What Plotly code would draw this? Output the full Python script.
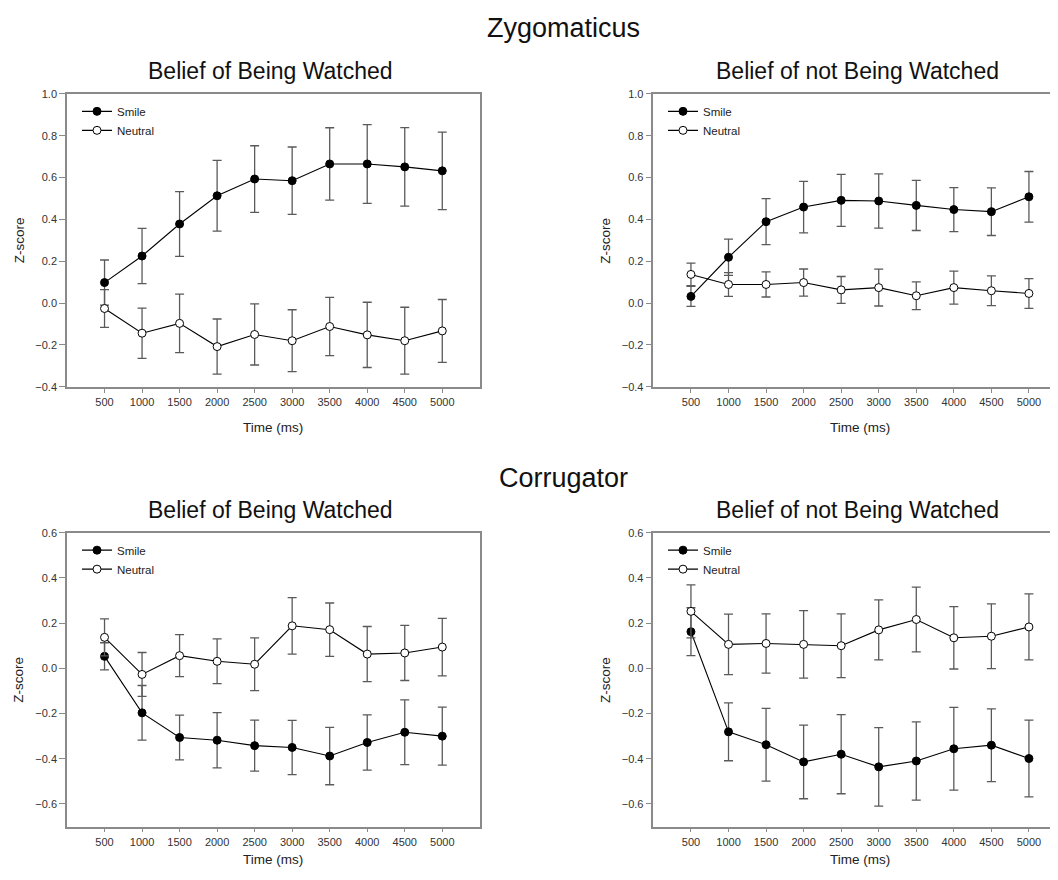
import plotly.graph_objects as go

times = [500, 1000, 1500, 2000, 2500, 3000, 3500, 4000, 4500, 5000]
tick_labels = [str(t) for t in times]

# Zygomaticus - Belief of Being Watched
zyg_w_smile = [0.098, 0.225, 0.378, 0.513, 0.593, 0.585, 0.665, 0.665, 0.651, 0.632]
zyg_w_smile_err = [0.108, 0.132, 0.155, 0.169, 0.159, 0.161, 0.173, 0.188, 0.188, 0.185]
zyg_w_neutral = [-0.026, -0.144, -0.097, -0.208, -0.150, -0.180, -0.112, -0.152, -0.180, -0.133]
zyg_w_neutral_err = [0.090, 0.120, 0.140, 0.132, 0.146, 0.148, 0.139, 0.156, 0.160, 0.150]

# Zygomaticus - Belief of not Being Watched
zyg_nw_smile = [0.032, 0.219, 0.389, 0.459, 0.491, 0.488, 0.467, 0.447, 0.437, 0.508]
zyg_nw_smile_err = [0.048, 0.087, 0.110, 0.123, 0.124, 0.130, 0.120, 0.105, 0.114, 0.121]
zyg_nw_neutral = [0.137, 0.089, 0.089, 0.098, 0.063, 0.074, 0.035, 0.074, 0.059, 0.046]
zyg_nw_neutral_err = [0.054, 0.057, 0.060, 0.065, 0.064, 0.088, 0.066, 0.079, 0.071, 0.071]

# Corrugator - Belief of Being Watched
cor_w_smile = [0.053, -0.197, -0.306, -0.318, -0.342, -0.350, -0.388, -0.328, -0.283, -0.300]
cor_w_smile_err = [0.060, 0.121, 0.099, 0.122, 0.113, 0.120, 0.127, 0.122, 0.143, 0.128]
cor_w_neutral = [0.137, -0.027, 0.056, 0.031, 0.018, 0.188, 0.171, 0.063, 0.068, 0.094]
cor_w_neutral_err = [0.082, 0.097, 0.093, 0.099, 0.117, 0.125, 0.118, 0.122, 0.122, 0.127]

# Corrugator - Belief of not Being Watched
cor_nw_smile = [0.162, -0.281, -0.338, -0.414, -0.380, -0.436, -0.410, -0.356, -0.340, -0.399]
cor_nw_smile_err = [0.106, 0.128, 0.161, 0.163, 0.175, 0.174, 0.173, 0.183, 0.161, 0.170]
cor_nw_neutral = [0.252, 0.106, 0.110, 0.106, 0.100, 0.170, 0.216, 0.135, 0.142, 0.183]
cor_nw_neutral_err = [0.117, 0.134, 0.131, 0.149, 0.141, 0.133, 0.143, 0.138, 0.143, 0.146]

zyg_yticks = [-0.4, -0.2, 0.0, 0.2, 0.4, 0.6, 0.8, 1.0]
cor_yticks = [-0.6, -0.4, -0.2, 0.0, 0.2, 0.4, 0.6]

FONT = "Liberation Sans, Arial, sans-serif"
AXIS_GREY = "#8a8a8a"
ERR_GREY = "#5a5a5a"

# page body has an 8px margin on every side: keep the whole page inside 1058x880
OFF = 8
W, H = 1058 - OFF, 880 - 2 * OFF


def fx(p):
    return (p - OFF) / W


def fy(p):
    return 1 - (p - OFF) / H


panels = [
    ("", zyg_w_smile, zyg_w_smile_err, zyg_w_neutral, zyg_w_neutral_err, "legend",
     (67, 479.8), (89, 386), 5500, [-0.4, 1.0], zyg_yticks, False),
    ("2", zyg_nw_smile, zyg_nw_smile_err, zyg_nw_neutral, zyg_nw_neutral_err, "legend2",
     (653.4, 1058), (89, 386), 5387, [-0.4, 1.0], zyg_yticks, True),
    ("3", cor_w_smile, cor_w_smile_err, cor_w_neutral, cor_w_neutral_err, "legend3",
     (67, 479.8), (534, 832), 5500, [-0.7, 0.6], cor_yticks, False),
    ("4", cor_nw_smile, cor_nw_smile_err, cor_nw_neutral, cor_nw_neutral_err, "legend4",
     (653.4, 1058), (534, 832), 5387, [-0.7, 0.6], cor_yticks, True),
]

fig = go.Figure()
layout = dict(
    width=W, height=H,
    margin=dict(l=0, r=0, t=0, b=0),
    paper_bgcolor="white", plot_bgcolor="white",
    font=dict(family=FONT, color="#222"),
    showlegend=True,
)

annotations = []

for (sfx, sm, sme, ne, nee, leg, xd, yd, xmax, yr, yt, right) in panels:
    xa = "x" + sfx
    ya = "y" + sfx
    fig.add_trace(go.Scatter(
        x=times, y=sm, name="Smile", mode="lines+markers",
        xaxis=xa, yaxis=ya, legend=leg,
        line=dict(color="black", width=1.1),
        marker=dict(symbol="circle", size=8, color="black", line=dict(color="black", width=1)),
        error_y=dict(type="data", array=sme, visible=True, color=ERR_GREY, thickness=1.3, width=4.5),
    ))
    fig.add_trace(go.Scatter(
        x=times, y=ne, name="Neutral", mode="lines+markers",
        xaxis=xa, yaxis=ya, legend=leg,
        line=dict(color="black", width=1.1),
        marker=dict(symbol="circle", size=8, color="white", line=dict(color="black", width=1)),
        error_y=dict(type="data", array=nee, visible=True, color=ERR_GREY, thickness=1.3, width=4.5),
    ))
    layout["xaxis" + sfx] = dict(
        domain=[fx(xd[0]), min(1.0, fx(xd[1]))], anchor=ya, range=[0, xmax],
        tickvals=times, ticktext=tick_labels,
        ticks="outside", ticklen=4, tickcolor=AXIS_GREY, tickwidth=1,
        showline=True, linecolor=AXIS_GREY, linewidth=1.5, mirror=True,
        showgrid=False, zeroline=False,
        tickfont=dict(family=FONT, size=11, color="#333"),
        ticklabelstandoff=0,
    )
    layout["yaxis" + sfx] = dict(
        domain=[fy(yd[1]), fy(yd[0])], anchor=xa, range=yr,
        tickvals=yt, tickformat=".1f",
        ticks="outside", ticklen=6, tickcolor=AXIS_GREY, tickwidth=1,
        showline=True, linecolor=AXIS_GREY, linewidth=1.5, mirror=(not right),
        showgrid=False, zeroline=False,
        tickfont=dict(family=FONT, size=11, color="#333"),
    )
    lx = fx(77 if not right else 663)
    ly = fy(yd[0] + 3)
    layout[leg] = dict(
        x=lx, y=ly, xanchor="left", yanchor="top",
        bgcolor="rgba(0,0,0,0)", borderwidth=0,
        font=dict(family=FONT, size=11.5, color="#222"),
        itemwidth=30, tracegroupgap=0,
    )
    # axis titles (centred under the visible box width of the left panels)
    time_cx = xd[0] + (479.8 - 67) / 2
    time_cy = yd[1] + 41 if yd[1] < 500 else 865
    annotations.append(dict(
        text="Time (ms)", xref="paper", yref="paper", x=fx(time_cx), y=fy(time_cy),
        yanchor="middle", xanchor="center", showarrow=False,
        font=dict(family=FONT, size=13.5, color="#222"),
    ))
    annotations.append(dict(
        text="Z-score", xref="paper", yref="paper", x=fx(xd[0] - 48), y=fy((yd[0] + yd[1]) / 2),
        xanchor="center", yanchor="middle", textangle=-90, showarrow=False,
        font=dict(family=FONT, size=13.5, color="#222"),
    ))

# Titles
annotations.append(dict(text="Zygomaticus", xref="paper", yref="paper", x=fx(563), y=fy(22),
                        xanchor="center", yanchor="middle", showarrow=False,
                        font=dict(family=FONT, size=27, color="#111")))
annotations.append(dict(text="Corrugator", xref="paper", yref="paper", x=fx(563), y=fy(479),
                        xanchor="center", yanchor="middle", showarrow=False,
                        font=dict(family=FONT, size=27, color="#111")))
for (txt, cx, cy) in [("Belief of Being Watched", 270, 66), ("Belief of not Being Watched", 857, 66),
                      ("Belief of Being Watched", 270, 511), ("Belief of not Being Watched", 857, 511)]:
    annotations.append(dict(text=txt, xref="paper", yref="paper", x=fx(cx), y=fy(cy),
                            xanchor="center", yanchor="middle", showarrow=False,
                            font=dict(family=FONT, size=23, color="#111")))

layout["annotations"] = annotations
fig.update_layout(**layout)
fig.write_html("out.html")
